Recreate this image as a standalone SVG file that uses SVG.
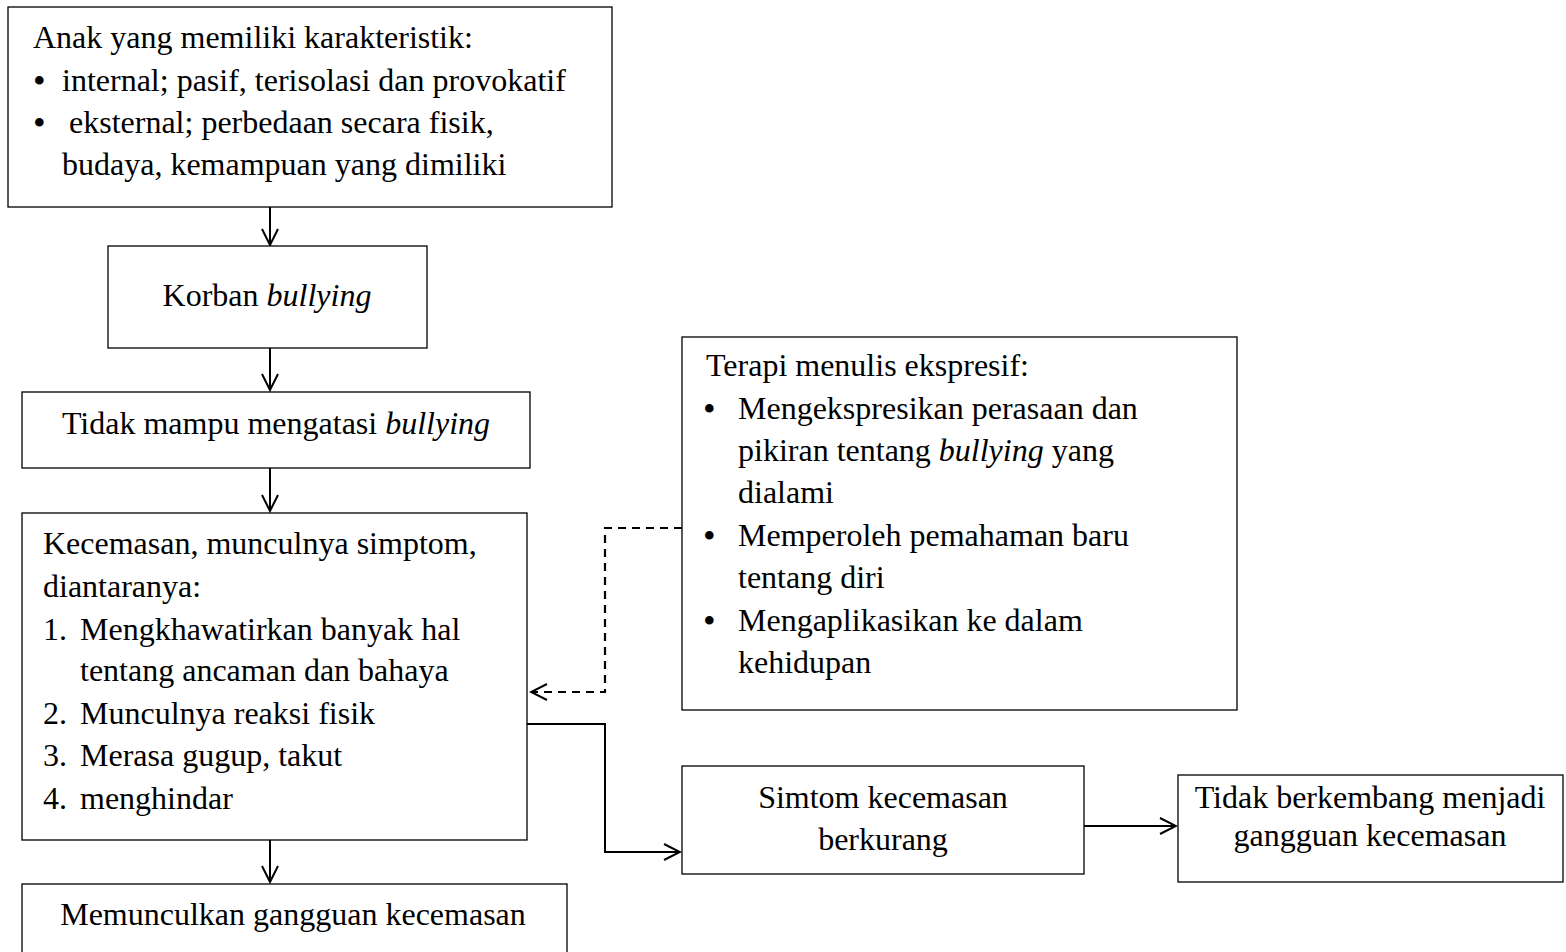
<svg xmlns="http://www.w3.org/2000/svg" width="1566" height="952" viewBox="0 0 1566 952">
<style>
rect.box{fill:#fff;stroke:#000;stroke-width:1.3}
text{font-family:"Liberation Serif","Times New Roman",serif;font-size:32px;fill:#000}
text.b{font-size:36px}
.c{text-anchor:middle}
.i{font-style:italic}
.ln{fill:none;stroke:#000;stroke-width:2}
.dash{fill:none;stroke:#000;stroke-width:2.2;stroke-dasharray:8,6}
</style>
<defs>
<marker id="arr" viewBox="0 0 20 20" refX="18" refY="10" markerWidth="20" markerHeight="20" markerUnits="userSpaceOnUse" orient="auto">
<path d="M2,2 L18,10 L2,18" fill="none" stroke="#000" stroke-width="2"/>
</marker>
</defs>
<rect width="1566" height="952" fill="#fff"/>
<g id="connectors">
<line class="ln" x1="270" y1="207" x2="270" y2="245" marker-end="url(#arr)"/>
<line class="ln" x1="270" y1="348" x2="270" y2="390" marker-end="url(#arr)"/>
<line class="ln" x1="270" y1="468" x2="270" y2="511" marker-end="url(#arr)"/>
<line class="ln" x1="270" y1="840" x2="270" y2="882" marker-end="url(#arr)"/>
<polyline class="dash" points="682,528 605,528 605,692 531,692" marker-end="url(#arr)"/>
<polyline class="ln" points="527,724 605,724 605,852 680,852" marker-end="url(#arr)"/>
<line class="ln" x1="1084" y1="826" x2="1176" y2="826" marker-end="url(#arr)"/>
</g>
<g id="node-karakteristik">
<rect class="box" x="8" y="7" width="604" height="200"/>
<text x="33" y="48">Anak yang memiliki karakteristik:</text>
<text class="b" x="33" y="93">•</text><text x="62" y="91">internal; pasif, terisolasi dan provokatif</text>
<text class="b" x="33" y="135">•</text><text x="69" y="133">eksternal; perbedaan secara fisik,</text>
<text x="62" y="175">budaya, kemampuan yang dimiliki</text>
</g>
<g id="node-korban">
<rect class="box" x="108" y="246" width="319" height="102"/>
<text class="c" x="267" y="306">Korban <tspan class="i">bullying</tspan></text>
</g>
<g id="node-tidak-mampu">
<rect class="box" x="22" y="392" width="508" height="76"/>
<text class="c" x="276" y="434">Tidak mampu mengatasi <tspan class="i">bullying</tspan></text>
</g>
<g id="node-kecemasan">
<rect class="box" x="22" y="513" width="505" height="327"/>
<text x="43" y="554">Kecemasan, munculnya simptom,</text>
<text x="43" y="597">diantaranya:</text>
<text x="43" y="640">1.</text><text x="80" y="640">Mengkhawatirkan banyak hal</text>
<text x="80" y="681">tentang ancaman dan bahaya</text>
<text x="43" y="724">2.</text><text x="80" y="724">Munculnya reaksi fisik</text>
<text x="43" y="766">3.</text><text x="80" y="766">Merasa gugup, takut</text>
<text x="43" y="809">4.</text><text x="80" y="809">menghindar</text>
</g>
<g id="node-gangguan">
<rect class="box" x="22" y="884" width="545" height="80"/>
<text class="c" x="293" y="925">Memunculkan gangguan kecemasan</text>
</g>
<g id="node-terapi">
<rect class="box" x="682" y="337" width="555" height="373"/>
<text x="706" y="376">Terapi menulis ekspresif:</text>
<text class="b" x="703" y="421">•</text><text x="738" y="419">Mengekspresikan perasaan dan</text>
<text x="738" y="461">pikiran tentang <tspan class="i">bullying</tspan> yang</text>
<text x="738" y="503">dialami</text>
<text class="b" x="703" y="548">•</text><text x="738" y="546">Memperoleh pemahaman baru</text>
<text x="738" y="588">tentang diri</text>
<text class="b" x="703" y="633">•</text><text x="738" y="631">Mengaplikasikan ke dalam</text>
<text x="738" y="673">kehidupan</text>
</g>
<g id="node-simtom">
<rect class="box" x="682" y="766" width="402" height="108"/>
<text class="c" x="883" y="808">Simtom kecemasan</text>
<text class="c" x="883" y="850">berkurang</text>
</g>
<g id="node-tidak-berkembang">
<rect class="box" x="1178" y="775" width="385" height="107"/>
<text class="c" x="1370" y="808">Tidak berkembang menjadi</text>
<text class="c" x="1370" y="846">gangguan kecemasan</text>
</g>
</svg>
